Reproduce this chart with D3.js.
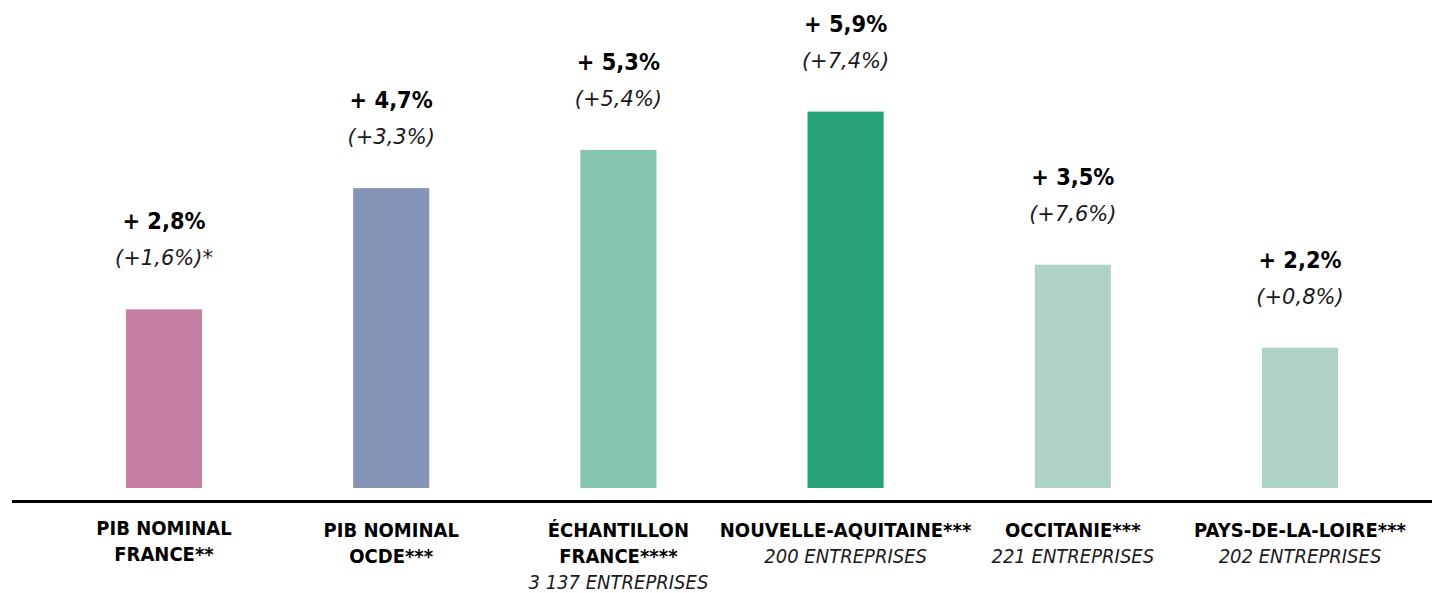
<!DOCTYPE html>
<html>
<head>
<meta charset="utf-8">
<script src="https://cdn.jsdelivr.net/npm/d3@7"></script>
<style>
  html, body { margin: 0; padding: 0; background: #fff; }
  svg { display: block; font-family: "DejaVu Sans", sans-serif; }
</style>
</head>
<body>
<svg id="chart" width="1432" height="593"></svg>
<script>
// ---- Data ----
const categories = ["PIB NOMINAL FRANCE", "PIB NOMINAL OCDE", "ÉCHANTILLON FRANCE", "NOUVELLE-AQUITAINE", "OCCITANIE", "PAYS-DE-LA-LOIRE"];
const labelLines = [
  ["PIB NOMINAL", "FRANCE**"],
  ["PIB NOMINAL", "OCDE***"],
  ["ÉCHANTILLON", "FRANCE****"],
  ["NOUVELLE-AQUITAINE***"],
  ["OCCITANIE***"],
  ["PAYS-DE-LA-LOIRE***"]
];
const subLabels = ["", "", "3 137 ENTREPRISES", "200 ENTREPRISES", "221 ENTREPRISES", "202 ENTREPRISES"];
const values = [2.8, 4.7, 5.3, 5.9, 3.5, 2.2];
const previousValues = [1.6, 3.3, 5.4, 7.4, 7.6, 0.8];
const previousSuffix = ["*", "", "", "", "", ""];
const colors = ["#C57FA0", "#8593B6", "#86C5AE", "#27A279", "#AED3C5", "#AED3C5"];

const fmt = v => v.toFixed(1).replace(".", ",");

// ---- Chart ----
const svg = d3.select("#chart");

const x = d3.scaleBand()
  .domain(categories)
  .range([50.4, 1413.6])
  .paddingInner(0.665)
  .paddingOuter(0.3325);

const y = d3.scaleLinear()
  .domain([0, 7.5])
  .range([488, 488 - 7.5 * 63.8]);

// bars
svg.append("g").selectAll("rect")
  .data(categories)
  .join("rect")
  .attr("x", d => x(d))
  .attr("width", x.bandwidth())
  .attr("y", (d, i) => y(values[i]))
  .attr("height", (d, i) => y(0) - y(values[i]))
  .attr("fill", (d, i) => colors[i]);

// axis line
const axis = d3.axisBottom(x).tickSize(0).tickFormat("");
const axisG = svg.append("g")
  .attr("transform", "translate(0,501.5)")
  .call(axis);
axisG.select(".domain").remove();
axisG.append("line")
  .attr("x1", 12).attr("x2", 1432)
  .attr("y1", 0).attr("y2", 0)
  .attr("stroke", "#000")
  .attr("stroke-width", 3);

// text helper: keep the width of widthSize, but draw glyphs at size (taller, narrower font look)
function fitText(sel, widthSize, size) {
  sel.attr("font-size", widthSize);
  const w = sel.node().getComputedTextLength();
  sel.attr("font-size", size)
     .attr("textLength", w)
     .attr("lengthAdjust", "spacingAndGlyphs");
  return sel;
}

// value labels
const lbl = svg.append("g").attr("text-anchor", "middle");
categories.forEach((c, i) => {
  const cx = x(c) + x.bandwidth() / 2;
  const top = y(values[i]);
  const t1 = lbl.append("text")
    .attr("x", cx).attr("y", top - 80)
    .attr("font-weight", "bold").attr("fill", "#000")
    .text("+ " + fmt(values[i]) + "%");
  fitText(t1, 21, 22.5);
  const t2 = lbl.append("text")
    .attr("x", cx).attr("y", top - 44)
    .attr("font-style", "italic").attr("fill", "#1a1a1a")
    .text("(+" + fmt(previousValues[i]) + "%)" + previousSuffix[i]);
  fitText(t2, 21, 22);
});

// category labels
const cat = svg.append("g").attr("text-anchor", "middle");
const baselines = [537, 563, 589];
categories.forEach((c, i) => {
  const cx = x(c) + x.bandwidth() / 2;
  const lines = labelLines[i];
  const shift = i === 0 ? -2 : 0;
  lines.forEach((t, j) => {
    const tx = cat.append("text")
      .attr("x", cx).attr("y", baselines[j] + shift)
      .attr("font-weight", "bold").attr("fill", "#000")
      .text(t);
    fitText(tx, 18, 19.5);
  });
  if (subLabels[i]) {
    const ts = cat.append("text")
      .attr("x", cx).attr("y", baselines[lines.length])
      .attr("font-style", "italic").attr("fill", "#1a1a1a")
      .text(subLabels[i]);
    fitText(ts, 18, 19.5);
  }
});
</script>
</body>
</html>
